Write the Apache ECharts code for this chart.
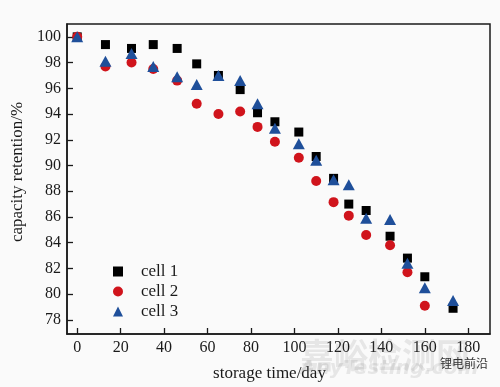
<!DOCTYPE html>
<html><head><meta charset="utf-8">
<script src="https://cdn.jsdelivr.net/npm/echarts@6/dist/echarts.min.js"></script>
<style>html,body{margin:0;padding:0;background:#fafafa}#c{width:500px;height:387px}</style>
</head><body><div id="c"></div>
<script>
const days  = [0, 13, 25, 35, 46, 55, 65, 75, 83, 91, 102, 110, 118, 125, 133, 144, 152, 160, 173];
const cell1 = [100, 99.4, 99.1, 99.4, 99.1, 97.9, 97.0, 95.9, 94.1, 93.4, 92.6, 90.7, 89.0, 87.0, 86.5, 84.5, 82.8, 81.35, 78.9];
const cell2 = [100, 97.7, 98.0, 97.5, 96.6, 94.8, 94.0, 94.2, 93.0, 91.85, 90.6, 88.8, 87.15, 86.1, 84.6, 83.8, 81.7, 79.1, null];
const cell3 = [100, 98.1, 98.7, 97.7, 96.9, 96.3, 97.0, 96.6, 94.8, 92.9, 91.7, 90.4, 88.9, 88.5, 85.9, 85.8, 82.4, 80.5, 79.5];
const xTicks = [0, 20, 40, 60, 80, 100, 120, 140, 160, 180];
const yTicks = [78, 80, 82, 84, 86, 88, 90, 92, 94, 96, 98, 100];
const names = ['cell 1', 'cell 2', 'cell 3'];

const pairs = arr => days.map((d, i) => arr[i] == null ? null : [d, arr[i]]).filter(p => p);
const font = 'Liberation Serif, Times New Roman, serif';
const chart = echarts.init(document.getElementById('c'), null, {renderer: 'canvas'});
chart.setOption({
  backgroundColor: '#fafafa',
  animation: false,
  grid: {left: 67, right: 10, top: 24, bottom: 52, show: true, borderColor: '#1a1a1a', borderWidth: 1.5, backgroundColor: 'transparent'},
  xAxis: {
    type: 'value', min: -4.7, max: 190,
    name: 'storage time/day', nameLocation: 'middle', nameGap: 31,
    nameTextStyle: {fontFamily: font, fontSize: 17, color: '#1a1a1a', padding: [0, 18, 0, 0]},
    axisLine: {show: true, onZero: false, lineStyle: {color: '#1a1a1a', width: 1.5}},
    axisTick: {show: true, inside: true, length: 6, customValues: xTicks, lineStyle: {color: '#1a1a1a', width: 1.3}},
    axisLabel: {customValues: xTicks, fontFamily: font, fontSize: 16, color: '#1a1a1a', margin: 6},
    splitLine: {show: false}
  },
  yAxis: {
    type: 'value', min: 76.9, max: 101,
    name: 'capacity retention/%', nameLocation: 'middle', nameGap: 36, nameRotate: 90,
    nameTextStyle: {fontFamily: font, fontSize: 17, color: '#1a1a1a', padding: [0, 0, 0, 14]},
    axisLine: {show: true, onZero: false, lineStyle: {color: '#1a1a1a', width: 1.5}},
    axisTick: {show: true, inside: true, length: 6, customValues: yTicks, lineStyle: {color: '#1a1a1a', width: 1.3}},
    axisLabel: {customValues: yTicks, fontFamily: font, fontSize: 16, color: '#1a1a1a', margin: 6},
    splitLine: {show: false}
  },
  legend: {
    orient: 'vertical', left: 108, top: 258, itemWidth: 10, itemHeight: 10, itemGap: 3,
    data: names,
    textStyle: {fontFamily: font, fontSize: 17, lineHeight: 17, color: '#1a1a1a', padding: [0, 0, 0, 13]}
  },
  series: [
    {name: names[0], type: 'scatter', symbol: 'rect', symbolSize: 9, itemStyle: {color: '#000000', opacity: 1}, data: pairs(cell1)},
    {name: names[1], type: 'scatter', symbol: 'circle', symbolSize: 10, itemStyle: {color: '#d0141c', opacity: 1}, data: pairs(cell2)},
    {name: names[2], type: 'scatter', symbol: 'triangle', symbolSize: [12, 11], itemStyle: {color: '#1f4f9a', opacity: 1}, data: pairs(cell3)}
  ],
  graphic: [
    {type: 'text', left: 300, top: 338, z: 100, style: {text: '嘉峪检测网', font: 'bold 34px "Noto Sans CJK SC"', fill: 'rgba(120,120,120,0.15)'}},
    {type: 'text', left: 300, top: 359, z: 100, style: {text: 'AnyTesting.com', font: 'italic bold 20px "DejaVu Sans"', fill: 'rgba(120,120,120,0.15)'}},
    {type: 'text', left: 440, top: 357, z: 101, style: {text: '锂电前沿', font: '12px "Noto Sans CJK SC"', fill: '#333'}}
  ]
});
</script></body></html>
